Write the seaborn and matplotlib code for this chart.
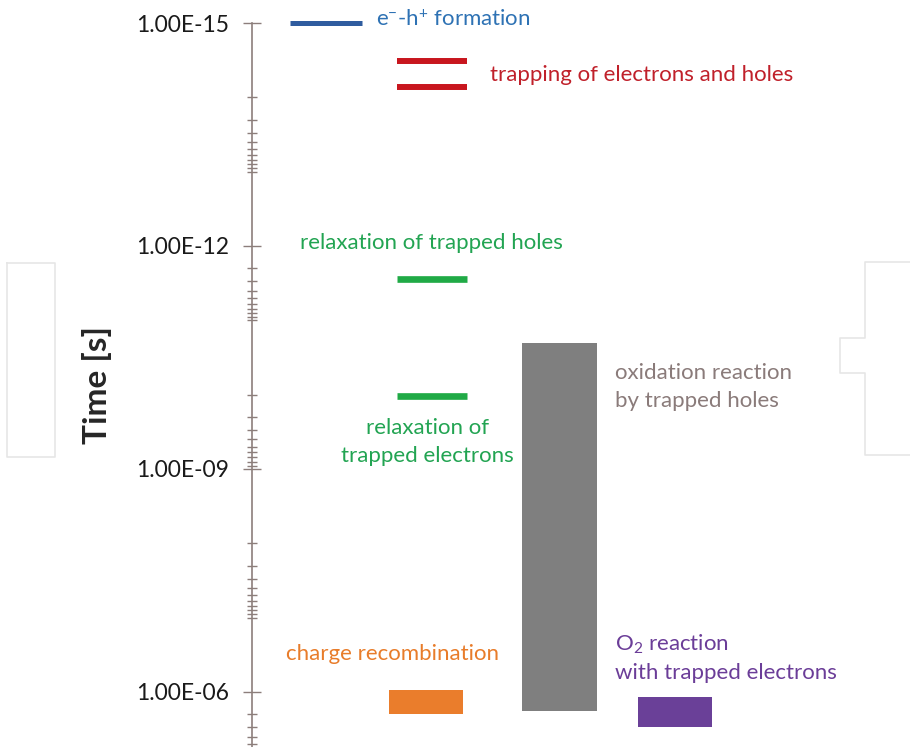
import numpy as np
import pandas as pd
import matplotlib.pyplot as plt
from matplotlib.lines import Line2D
import seaborn as sns

# time scale of photocatalytic processes (seconds)
line_events = ['e-h formation', 'trapping 1', 'trapping 2', 'relax holes', 'relax electrons']
line_times = [1.0e-15, 3.2e-15, 7.2e-15, 2.8e-12, 1.05e-10]
line_colors = ['#2f5c9f', '#c8161e', '#c8161e', '#20aa46', '#20aa46']

bar_events = ['charge recombination', 'oxidation', 'O2 reaction']
bar_start = [9.4e-7, 2.0e-11, 1.17e-6]
bar_end = [2.0e-6, 1.8e-6, 2.95e-6]
bar_colors = ['#ea7d2c', '#7f7f7f', '#6a4098']

major_ticks = [1e-15, 1e-12, 1e-9, 1e-6]
major_labels = ['1.00E-15', '1.00E-12', '1.00E-09', '1.00E-06']
minor_decades = [-14, -12, -10, -8, -6]

sns.set_style('white')
plt.rcParams['font.family'] = ['Lato', 'DejaVu Sans']
plt.rcParams['mathtext.fontset'] = 'custom'
plt.rcParams['mathtext.rm'] = 'Lato'
plt.rcParams['mathtext.it'] = 'Lato:italic'

W, H = 910, 747
fs = 16
fig = plt.figure(figsize=(W / 100, H / 100), dpi=100)
ax_left, ax_top = 252, 23
ax = fig.add_axes([ax_left / W, 0, 1 - ax_left / W, 1 - ax_top / H])
ax.set_yscale('log')

# horizontal markers
line_x = [(290, 362), (397, 467), (397, 467), (397, 467), (397, 467)]
line_w = [3.6, 4.3, 4.3, 4.8, 4.8]
for t, (x0, x1), c, lw in zip(line_times, line_x, line_colors, line_w):
    ax.plot([x0, x1], [t, t], color=c, lw=lw, solid_capstyle='butt', clip_on=False)

# time ranges
bar_x = [426, 559.5, 675]
bar_w = [74, 75, 74]
heights = np.array(bar_end) - np.array(bar_start)
ax.bar(bar_x, heights, bottom=bar_start, width=bar_w, color=bar_colors, linewidth=0)

# axis styling
axis_col = '#8c7e7b'
for s in ['top', 'right', 'bottom']:
    ax.spines[s].set_visible(False)
ax.spines['left'].set_color(axis_col)
ax.spines['left'].set_linewidth(1.2)
ax.set_xticks([])
ax.set_yticks(major_ticks)
ax.set_yticklabels(major_labels)
minor = []
for n in minor_decades:
    for k in range(1, 11):
        v = k * 10.0 ** n
        if v < 5.5e-6 and not any(np.isclose(v, m, rtol=1e-6, atol=0) for m in major_ticks):
            minor.append(v)
ax.set_yticks(minor, minor=True)
ax.tick_params(axis='y', which='major', left=True, direction='inout', length=13.5, width=1,
               color=axis_col, labelsize=16.5, labelcolor='#1a1a1a', pad=10)
ax.tick_params(axis='y', which='minor', left=True, direction='inout', length=7, width=1,
               color=axis_col, labelleft=False)

# limits last so tick setting does not widen them
ax.set_xlim(ax_left, W)
ax.set_ylim(5.5e-6, 1e-15)


def py(p):
    # pixel row -> time value on this axis
    return 10 ** (-15 + (p - ax_top) / 74.33)


ls = 1.45
ax.text(376, py(20), r'e$^{-}$-h$^{+}$ formation', color='#2e72b4', fontsize=fs,
        va='center', ha='left', clip_on=False)
ax.text(490, py(75), 'trapping of electrons and holes', color='#c0202a', fontsize=fs,
        va='center', ha='left')
ax.text(431, py(243), 'relaxation of trapped holes', color='#22a452', fontsize=fs,
        va='center', ha='center')
ax.text(427, py(442), 'relaxation of\ntrapped electrons', color='#22a452', fontsize=fs,
        va='center', ha='center', linespacing=ls)
ax.text(615, py(387), 'oxidation reaction\nby trapped holes', color='#8a7b7a', fontsize=fs,
        va='center', ha='left', linespacing=ls)
ax.text(286, py(654), 'charge recombination', color='#e87c2a', fontsize=fs,
        va='center', ha='left')
ax.text(615, py(658), 'O$_2$ reaction\nwith trapped electrons', color='#6b3d98', fontsize=fs,
        va='center', ha='left', linespacing=ls)

fig.text(97 / W, 1 - 385 / H, 'Time [s]', rotation=90, fontsize=24, fontweight='bold',
         ha='center', va='center')

# faint background outlines
wm = '#e6e6e6'
fig.add_artist(Line2D(np.array([7, 55, 55, 7, 7]) / W, 1 - np.array([263, 263, 457, 457, 263]) / H,
                      color=wm, lw=1.2))
fig.add_artist(Line2D(np.array([910, 865, 865, 840, 840, 865, 865, 910]) / W,
                      1 - np.array([262, 262, 338, 338, 373, 373, 455, 455]) / H,
                      color=wm, lw=1.2))

fig.savefig('out.png', dpi=100)
